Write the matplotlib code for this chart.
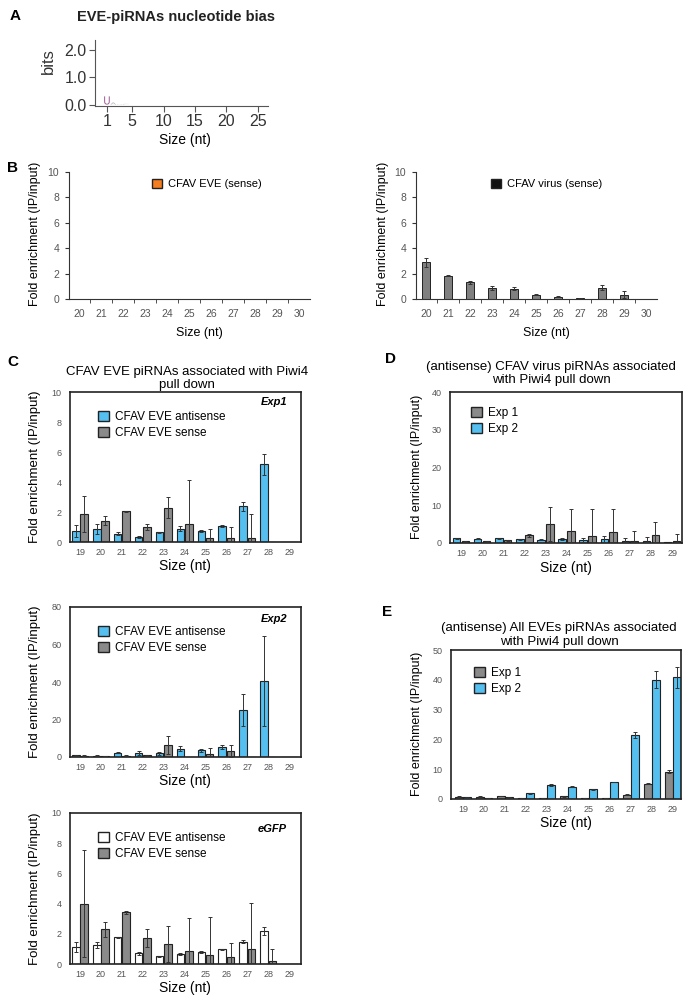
import numpy as np
import matplotlib
matplotlib.use("Agg")
import matplotlib.pyplot as plt
import matplotlib.transforms as mtransforms
from matplotlib.patches import Patch, PathPatch
from matplotlib.textpath import TextPath
from matplotlib.font_manager import FontProperties

plt.rcParams['font.family'] = ['Liberation Sans', 'DejaVu Sans']

# ---- data ----
# A: sequence logo (position, letter, bits)
logo_pos = [1, 2, 3, 4]
logo_letters = ['U', 'A', 'G', 'C']
logo_bits = [0.3, 0.08, 0.02, 0.03]
logo_colors = ['#a25c97', '#b0b0b0', '#c0c0c0', '#c0c0c0']
logo_ticks = [1, 5, 10, 15, 20, 25]

# B: sizes 20-30
b_sizes = list(range(20, 31))
b_eve_sense = [0] * 11
b_virus_sense = [2.9, 1.85, 1.3, 0.85, 0.8, 0.35, 0.18, 0.08, 0.9, 0.35, 0]
b_virus_err = [0.35, 0.05, 0.15, 0.15, 0.12, 0.03, 0.05, 0.03, 0.2, 0.3, 0]

# C-E: sizes 19-29
sizes = list(range(19, 30))
exp1_anti = [0.75, 0.86, 0.55, 0.35, 0.64, 0.9, 0.73, 1.06, 2.37, 5.17, 0]
exp1_anti_err = [0.4, 0.35, 0.1, 0.05, 0.05, 0.15, 0.05, 0.05, 0.3, 0.7, 0]
exp1_sense = [1.88, 1.42, 2.04, 1.02, 2.28, 1.22, 0.27, 0.27, 0.3, 0, 0]
exp1_sense_err = [1.2, 0.3, 0.05, 0.2, 0.7, 2.9, 0.6, 0.75, 1.55, 0, 0]

exp2_anti = [1.0, 0.8, 2.4, 2.3, 2.1, 4.5, 3.6, 5.2, 25, 40.5, 0]
exp2_anti_err = [0.3, 0.3, 0.3, 1.1, 0.8, 1.4, 0.8, 1.0, 8.5, 24, 0]
exp2_sense = [0.8, 0.5, 0.7, 0.9, 6.2, 0, 1.6, 3.0, 0, 0, 0]
exp2_sense_err = [0.2, 0.2, 0.2, 0.3, 4.8, 0, 3.4, 3.2, 0, 0, 0]

egfp_anti = [1.1, 1.26, 1.77, 0.7, 0.5, 0.66, 0.8, 0.97, 1.46, 2.2, 0]
egfp_anti_err = [0.33, 0.2, 0.05, 0.1, 0.05, 0.05, 0.05, 0.05, 0.1, 0.25, 0]
egfp_sense = [4.0, 2.3, 3.43, 1.7, 1.33, 0.84, 0.58, 0.46, 0.99, 0.2, 0]
egfp_sense_err = [3.55, 0.5, 0.1, 0.6, 1.2, 2.2, 2.5, 0.95, 3.05, 0.8, 0]

d_exp1 = [0.4, 0.4, 0.7, 2.0, 5.0, 3.1, 1.9, 2.8, 0.6, 2.1, 0.4]
d_exp1_err = [0.1, 0.1, 0.1, 0.3, 4.6, 5.9, 7.0, 6.1, 2.6, 3.4, 2.1]
d_exp2 = [1.2, 1.1, 1.3, 1.0, 0.9, 1.0, 0.7, 1.0, 0.5, 0.5, 0.2]
d_exp2_err = [0.1, 0.1, 0.15, 0.1, 0.1, 0.3, 0.5, 0.8, 0.7, 1.2, 0]

e_exp1 = [0.8, 0.8, 1.0, 0.3, 0.4, 0.9, 0.4, 0.3, 1.5, 5.2, 9.2]
e_exp1_err = [0.1, 0.1, 0.1, 0.05, 0.05, 0.1, 0.05, 0.05, 0.1, 0.2, 0.4]
e_exp2 = [0.7, 0.4, 0.6, 1.9, 4.6, 4.1, 3.2, 5.7, 21.5, 40.0, 40.8]
e_exp2_err = [0.05, 0.05, 0.1, 0.15, 0.3, 0.2, 0.15, 0.15, 1.0, 2.8, 3.5]

BLUE = '#55bff0'
GRAY = '#8a8a8a'
EDGE = '#222222'
TICKC = '#555555'

W, H = 691, 1001
fig = plt.figure(figsize=(W / 100, H / 100), dpi=100)


def add_ax(l, t, r, b):
    return fig.add_axes([l / W, 1 - b / H, (r - l) / W, (b - t) / H])


def ftext(x, y, s, **kw):
    kw.setdefault('ha', 'center')
    kw.setdefault('va', 'center')
    fig.text(x / W, 1 - y / H, s, **kw)


def bars(ax, x, vals, errs, off, color, width=0.36):
    x = np.asarray(x, float) + off
    vals = np.asarray(vals, float)
    errs = np.asarray(errs, float)
    ax.bar(x, vals, width, color=color, edgecolor=EDGE, linewidth=0.8, zorder=2)
    m = errs > 0
    ax.errorbar(x[m], vals[m], yerr=errs[m], fmt='none', ecolor='#333333',
                elinewidth=0.7, capsize=1.5, capthick=0.7, zorder=3)


def legend(ax, items, x, y, fs):
    handles = [Patch(facecolor=c, edgecolor=EDGE, linewidth=1.0, label=l) for c, l in items]
    ax.legend(handles=handles, loc='upper left', bbox_to_anchor=(x / W, 1 - y / H),
              bbox_transform=fig.transFigure, frameon=False, fontsize=fs,
              handlelength=0.9, handleheight=0.9, handletextpad=0.5,
              borderpad=0, borderaxespad=0, labelspacing=0.35)


def box_axes(ax, xlim, ylim, yticks):
    ax.set_xlim(*xlim)
    ax.set_ylim(*ylim)
    ax.set_yticks(yticks)
    ax.set_xticks(sizes)
    for s in ax.spines.values():
        s.set_linewidth(1.2)
        s.set_color('#222222')
    ax.tick_params(length=0, labelsize=6.5, labelcolor=TICKC)
    ax.tick_params(axis='y', pad=6)
    ax.tick_params(axis='x', pad=4)


# ---- A: logo ----
axA = add_ax(95, 40, 268, 106)
for p, let, h, c in zip(logo_pos, logo_letters, logo_bits, logo_colors):
    tp = TextPath((0, 0), let, size=1, prop=FontProperties(family='DejaVu Sans'))
    bb = tp.get_extents()
    tr = (mtransforms.Affine2D().translate(-bb.x0, -bb.y0)
          .scale(0.9 / bb.width, h / bb.height).translate(p - 0.45, 0))
    axA.add_patch(PathPatch(tr.transform_path(tp), facecolor=c, edgecolor='none'))
axA.set_xlim(-0.9, 26.6)
axA.set_ylim(-0.05, 2.35)
axA.set_xticks(logo_ticks)
axA.set_yticks([0, 1, 2])
axA.set_yticklabels(['0.0', '1.0', '2.0'])
for s in ['top', 'right']:
    axA.spines[s].set_visible(False)
for s in ['left', 'bottom']:
    axA.spines[s].set_color('#555555')
axA.tick_params(labelsize=11.5, labelcolor='#333333', color='#555555', length=4, pad=2)
ftext(15, 16, 'A', fontsize=11, fontweight='bold')
ftext(176, 17, 'EVE-piRNAs nucleotide bias', fontsize=10.5, fontweight='bold', color='#222222')
ftext(48, 61, 'bits', fontsize=12, rotation=90, color='#333333')
ftext(185, 140, 'Size (nt)', fontsize=10)

# ---- B ----
for (l, r), vals, errs, col, leg, lx, lbl_x in [
        ((69, 310), b_eve_sense, [0] * 11, '#f57c1f', 'CFAV EVE (sense)', 152, 35),
        ((416, 657), b_virus_sense, b_virus_err, '#808080', 'CFAV virus (sense)', 491, 383)]:
    ax = add_ax(l, 172, r, 299)
    xv = np.array(b_sizes, float)
    vv = np.array(vals, float)
    m = vv > 0
    ax.bar(xv[m], vv[m], 0.4, color=col, edgecolor=EDGE, linewidth=0.7)
    ee = np.array(errs, float)
    me = ee > 0
    ax.errorbar(xv[me], vv[me], yerr=ee[me], fmt='none', ecolor='#333333',
                elinewidth=0.7, capsize=1.5, capthick=0.7)
    ax.set_xlim(b_sizes[0] - 0.45, b_sizes[-1] + 0.5)
    ax.set_ylim(0, 10)
    ax.set_yticks(range(0, 11, 2))
    ax.set_xticks(b_sizes)
    ax.set_xticks(np.arange(b_sizes[0] + 0.5, b_sizes[-1], 1), minor=True)
    for s in ['top', 'right']:
        ax.spines[s].set_visible(False)
    for s in ['left', 'bottom']:
        ax.spines[s].set_color('#333333')
        ax.spines[s].set_linewidth(0.8)
    ax.tick_params(axis='x', which='major', length=0, pad=7, labelsize=7.5, labelcolor=TICKC)
    ax.tick_params(axis='x', which='minor', length=3, color='#333333')
    ax.tick_params(axis='y', length=3, pad=4, labelsize=7.5, labelcolor=TICKC, color='#333333')
    legend(ax, [(col if col != '#808080' else '#111111', leg)], lx, 179, 8)
    ftext(lbl_x, 234, 'Fold enrichment (IP/input)', fontsize=9, rotation=90)
    ftext((l + r) / 2 + 10, 333, 'Size (nt)', fontsize=9)
ftext(13, 168, 'B', fontsize=11, fontweight='bold')

# ---- C ----
c_panels = [
    (392, 542, 10, range(0, 11, 2), exp1_anti, exp1_anti_err, exp1_sense, exp1_sense_err, BLUE, 'Exp1', 402, 566),
    (607, 757, 80, range(0, 81, 20), exp2_anti, exp2_anti_err, exp2_sense, exp2_sense_err, BLUE, 'Exp2', 619, 781),
    (813, 964, 10, range(0, 11, 2), egfp_anti, egfp_anti_err, egfp_sense, egfp_sense_err, 'white', 'eGFP', 829, 988),
]
for top, bot, ymax, yt, anti, anti_e, sense, sense_e, acol, tag, tag_y, xl_y in c_panels:
    ax = add_ax(70, top, 301, bot)
    bars(ax, sizes, anti, anti_e, -0.2, acol)
    bars(ax, sizes, sense, sense_e, 0.2, GRAY)
    box_axes(ax, (18.52, 29.57), (0, ymax), list(yt))
    legend(ax, [(acol, 'CFAV EVE antisense'), (GRAY, 'CFAV EVE sense')], 98, top + 19, 8.5)
    ftext(287, tag_y, tag, fontsize=8, fontweight='bold', fontstyle='italic', ha='right')
    ftext(35, (top + bot) / 2, 'Fold enrichment (IP/input)', fontsize=9.5, rotation=90)
    ftext(185, xl_y, 'Size (nt)', fontsize=10)
ftext(13, 362, 'C', fontsize=11, fontweight='bold')
ftext(187, 372, 'CFAV EVE piRNAs associated with Piwi4', fontsize=9.5)
ftext(187, 385, 'pull down', fontsize=9.5)

# ---- D ----
axD = add_ax(450, 392, 682, 543)
bars(axD, sizes, d_exp2, d_exp2_err, -0.21, BLUE)
bars(axD, sizes, d_exp1, d_exp1_err, 0.21, GRAY)
box_axes(axD, (18.48, 29.47), (0, 40), list(range(0, 41, 10)))
legend(axD, [(GRAY, 'Exp 1'), (BLUE, 'Exp 2')], 471, 407, 8.5)
ftext(390, 359, 'D', fontsize=11, fontweight='bold')
ftext(551, 367, '(antisense) CFAV virus piRNAs associated', fontsize=9.5)
ftext(551, 380, 'with Piwi4 pull down', fontsize=9.5)
ftext(417, 467, 'Fold enrichment (IP/input)', fontsize=9, rotation=90)
ftext(566, 568, 'Size (nt)', fontsize=10)

# ---- E ----
axE = add_ax(451, 650, 681, 799)
bars(axE, sizes, e_exp1, e_exp1_err, -0.2, GRAY)
bars(axE, sizes, e_exp2, e_exp2_err, 0.2, BLUE)
box_axes(axE, (18.43, 29.38), (0, 50), list(range(0, 51, 10)))
legend(axE, [(GRAY, 'Exp 1'), (BLUE, 'Exp 2')], 474, 667, 8.5)
ftext(387, 612, 'E', fontsize=11, fontweight='bold')
ftext(559, 628, '(antisense) All EVEs piRNAs associated', fontsize=9.5)
ftext(559, 642, 'with Piwi4 pull down', fontsize=9.5)
ftext(417, 724, 'Fold enrichment (IP/input)', fontsize=9, rotation=90)
ftext(566, 823, 'Size (nt)', fontsize=10)

fig.savefig('out.png', dpi=100)
